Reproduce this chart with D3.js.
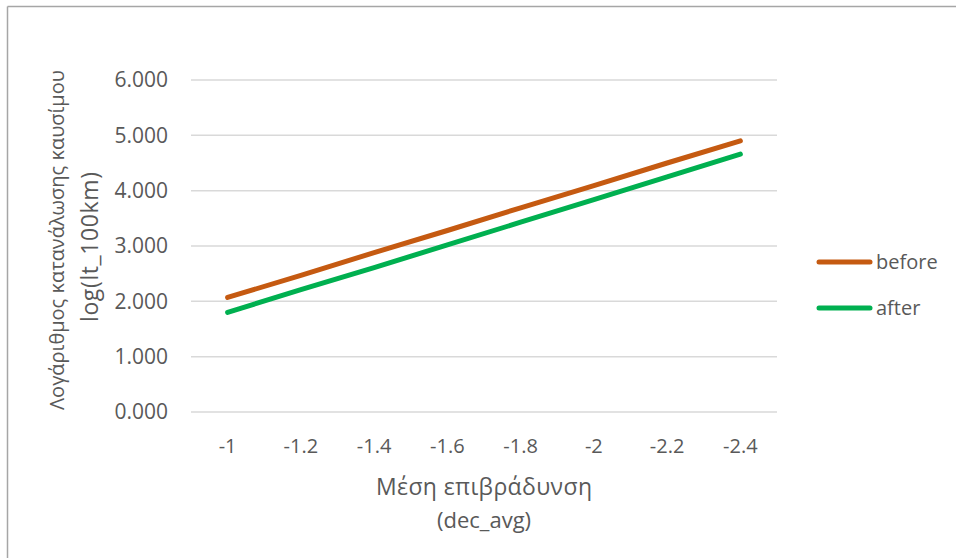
<!DOCTYPE html>
<html><head><meta charset="utf-8">
<script src="https://cdn.jsdelivr.net/npm/d3@7"></script>
<style>body{margin:0;background:#fff}svg{display:block}text{font-family:"Open Sans",sans-serif;fill:#595959}</style>
</head><body><svg id="c" width="956" height="558"></svg>
<script>
const categories = ["-1","-1.2","-1.4","-1.6","-1.8","-2","-2.2","-2.4"];
const before = [2.07,2.47,2.88,3.28,3.69,4.09,4.50,4.90];
const after = [1.80,2.21,2.61,3.02,3.43,3.84,4.25,4.66];
const yTicks = [0,1,2,3,4,5,6];
const seriesNames = ["before","after"];
const colors = ["#C55A11","#00B050"];

const svg = d3.select("#c");
svg.append("line").attr("x1",7.5).attr("x2",956).attr("y1",6.5).attr("y2",6.5).attr("stroke","#A6A6A6").attr("stroke-width",1.5);
svg.append("line").attr("x1",7.5).attr("x2",7.5).attr("y1",6.5).attr("y2",558).attr("stroke","#A6A6A6").attr("stroke-width",1.5);

const x = d3.scaleBand().domain(categories).range([191,777]);
const y = d3.scaleLinear().domain([0,6]).range([412,80]);

const fs = 20;
svg.append("g").selectAll("line").data(yTicks).join("line")
  .attr("x1",191).attr("x2",777).attr("y1",d=>y(d)).attr("y2",d=>y(d))
  .attr("stroke","#D9D9D9").attr("stroke-width",1.5);
svg.append("g").selectAll("text").data(yTicks).join("text")
  .attr("x",168).attr("y",d=>y(d)).attr("dy","0.35em").attr("text-anchor","end")
  .attr("font-size",21).text(d=>d3.format(".3f")(d));
svg.append("g").selectAll("text").data(categories).join("text")
  .attr("x",d=>x(d)+x.bandwidth()/2).attr("y",446).attr("dy","0.35em").attr("text-anchor","middle")
  .attr("font-size",fs).text(d=>d);

const line = d3.line().x((d,i)=>x(categories[i])+x.bandwidth()/2).y(d=>y(d));
[before,after].forEach((s,i)=>{
  svg.append("path").datum(s).attr("d",line).attr("fill","none")
    .attr("stroke",colors[i]).attr("stroke-width",5).attr("stroke-linecap","round");
});

const legY = [262,308];
seriesNames.forEach((n,i)=>{
  svg.append("line").attr("x1",819).attr("x2",870).attr("y1",legY[i]).attr("y2",legY[i])
    .attr("stroke",colors[i]).attr("stroke-width",5).attr("stroke-linecap","round");
  svg.append("text").attr("x",876).attr("y",legY[i]).attr("dy","0.35em").attr("font-size",fs).text(n);
});

function title(g, txt, cx, cy, size, len){
  const t = g.append("text").attr("x",cx).attr("y",cy).attr("dy","0.35em").attr("text-anchor","middle")
    .attr("font-size",size).text(txt);
  if (len) t.attr("textLength",len).attr("lengthAdjust","spacing");
}
title(svg,"Μέση επιβράδυνση",484,487,23,216);
title(svg,"(dec_avg)",484,520,22,null);
const yt = svg.append("g").attr("transform","rotate(-90)");
title(yt,"Λογάριθμος κατανάλωσης καυσίμου",-240,57,20,null);
title(yt,"log(lt_100km)",-247,90,23,150);
</script></body></html>
